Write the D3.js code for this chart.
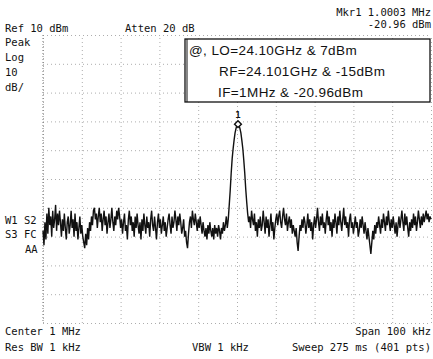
<!DOCTYPE html>
<html>
<head>
<meta charset="utf-8">
<script src="https://cdn.jsdelivr.net/npm/d3@7"></script>
<style>
  html, body { margin: 0; padding: 0; background: #fff; }
  svg { display: block; }
  .hp { font-family: "DejaVu Sans Mono", monospace; font-size: 10.5px; fill: #111; }
  .box { font-family: "Liberation Sans", Arial, sans-serif; font-size: 13.5px; letter-spacing: 0.4px; fill: #111; }
  .grid line { stroke: #adadad; stroke-width: 1; stroke-dasharray: 1,3; }
  .grid path { display: none; }
</style>
</head>
<body>
<div id="chart"></div>
<script>
// sweep settings (MHz / dBm)
const centerMHz = 1.0;
const spanMHz = 0.1;
const refLevel = 10;
const dbPerDiv = 10;
const nPoints = 401;

// trace, 401 pts, 0.25 kHz apart
const traceDbm = [
  -58,-63,-55,-61,-52,-59,-50,-56,-53,-60,-51,-57,-54,-49,-58,-52,-56,-51,-55,-60,
  -54,-58,-52,-57,-61,-55,-53,-59,-56,-51,-57,-54,-60,-52,-58,-55,-61,-57,-53,-59,
  -56,-60,-62,-64,-59,-63,-57,-61,-55,-58,-53,-56,-51,-50,-54,-52,-57,-53,-50,-55,
  -52,-58,-54,-51,-56,-53,-59,-55,-52,-57,-54,-50,-55,-58,-53,-56,-51,-54,-50,-53,
  -57,-54,-59,-55,-52,-58,-56,-61,-54,-51,-56,-53,-58,-55,-60,-53,-57,-52,-56,-59,
  -55,-61,-54,-58,-52,-56,-59,-53,-57,-55,-60,-54,-51,-56,-58,-53,-57,-61,-55,-52,
  -57,-54,-59,-56,-53,-58,-55,-60,-57,-54,-52,-56,-59,-53,-57,-55,-51,-54,-58,-53,
  -56,-52,-55,-59,-57,-54,-60,-58,-62,-64,-59,-55,-53,-57,-51,-54,-56,-52,-55,-58,
  -54,-57,-53,-56,-59,-55,-58,-60,-57,-61,-56,-59,-55,-58,-60,-57,-61,-56,-59,-57,
  -60,-56,-58,-61,-57,-59,-55,-58,-56,-53,-57,
  // IF peak
  -54,-49,-44,-38,-33,-29.5,-26.5,-24,-22.4,-21.3,-20.96,-21.3,-22.4,-24,-26.6,-29.5,-33.5,-38,-43.5,-48,-52,
  -55,-53,-57,-51,-54,-56,-52,-58,
  -55,-60,-54,-57,-53,-58,-56,-51,-55,-59,-53,-57,-54,-60,-56,-52,-58,-55,-61,-57,
  -54,-52,-56,-53,-51,-55,-57,-53,-50,-54,-56,-52,-58,-55,-53,-57,-54,-59,-56,-58,
  -60,-57,-62,-65,-60,-56,-58,-54,-57,-53,-55,-59,-56,-52,-57,-54,-58,-55,-61,-56,
  -53,-57,-54,-50,-55,-58,-53,-56,-52,-57,-55,-59,-54,-51,-56,-53,-58,-55,-60,-54,
  -57,-52,-55,-59,-53,-56,-51,-55,-58,-54,-50,-56,-53,-57,-55,-60,-54,-52,-57,-55,
  -59,-56,-53,-57,-55,-60,-58,-54,-57,-53,-56,-59,-55,-58,-61,-57,-60,-63,-66,-62,
  -58,-61,-56,-59,-55,-57,-53,-56,-59,-54,-57,-52,-55,-58,-53,-56,-51,-55,-58,-54,
  -57,-53,-56,-59,-55,-60,-56,-53,-57,-54,-51,-55,-58,-52,-56,-53,-57,-60,-55,-58,
  -54,-57,-52,-56,-53,-58,-55,-51,-54,-57,-53,-56,-52,-55,-53,-51,-54,-52,-55,-53,-54
];

const marker = { freq: 1.00025, level: -20.96, label: "1" };

const headerLeft = ["Ref 10 dBm", "Atten 20 dB"];
const markerText = ["Mkr1 1.0003 MHz", "-20.96 dBm"];
const sideLabels = ["Peak", "Log", "10", "dB/"];
const modeLabels = ["W1 S2", "S3 FC", "AA"];
const footer = ["Center 1 MHz", "Span 100 kHz", "Res BW 1 kHz", "VBW 1 kHz", "Sweep 275 ms (401 pts)"];
const noteLines = ["@, LO=24.10GHz & 7dBm", "RF=24.101GHz & -15dBm", "IF=1MHz & -20.96dBm"];

const W = 433, H = 359;
const plot = { left: 43, right: 431, top: 35, bottom: 323 };

const svg = d3.select("#chart").append("svg")
  .attr("width", W).attr("height", H);

const x = d3.scaleLinear()
  .domain([centerMHz - spanMHz / 2, centerMHz + spanMHz / 2])
  .range([plot.left, plot.right]);
const y = d3.scaleLinear()
  .domain([refLevel - 10 * dbPerDiv, refLevel])
  .range([plot.bottom, plot.top]);

const xTicks = d3.range(11).map(i => x.domain()[0] + i * spanMHz / 10);
const yTicks = d3.range(11).map(i => refLevel - i * dbPerDiv);

// dotted graticule
svg.append("g").attr("class", "grid")
  .attr("transform", `translate(0,${plot.bottom})`)
  .call(d3.axisBottom(x).tickValues(xTicks).tickSize(-(plot.bottom - plot.top)).tickFormat(""));
svg.append("g").attr("class", "grid")
  .attr("transform", `translate(${plot.left},0)`)
  .call(d3.axisLeft(y).tickValues(yTicks).tickSize(-(plot.right - plot.left)).tickFormat(""));

// left edge a bit darker, like on the screen
svg.append("line")
  .attr("x1", plot.left).attr("x2", plot.left).attr("y1", plot.top).attr("y2", plot.bottom)
  .attr("stroke", "#777").attr("stroke-dasharray", "1,2");

// trace
const pts = traceDbm.map((v, i) => ({ f: x.domain()[0] + i * spanMHz / (nPoints - 1), v }));
svg.append("path")
  .datum(pts)
  .attr("fill", "none")
  .attr("stroke", "#111")
  .attr("stroke-width", 1.4)
  .attr("d", d3.line().x(d => x(d.f)).y(d => y(d.v)));

// marker
const mx = x(marker.freq), my = y(marker.level);
svg.append("path")
  .attr("d", d3.symbol(d3.symbolDiamond2, 30)())
  .attr("transform", `translate(${mx},${my})`)
  .attr("fill", "#fff").attr("stroke", "#111").attr("stroke-width", 1.4);
svg.append("text").attr("class", "hp").attr("x", mx).attr("y", my - 6)
  .attr("text-anchor", "middle").style("font-size", "9px").style("font-weight", "bold").text(marker.label);

// annotation box
svg.append("rect")
  .attr("x", 185).attr("y", 39).attr("width", 245).attr("height", 63)
  .attr("fill", "#fff").attr("stroke", "#111").attr("stroke-width", 1.3);
svg.append("line").attr("x1", 187).attr("x2", 187).attr("y1", 39).attr("y2", 102)
  .attr("stroke", "#111").attr("stroke-width", 1);
const noteX = [189, 219, 218];
noteLines.forEach((t, i) => {
  svg.append("text").attr("class", "box").attr("x", noteX[i]).attr("y", 55 + i * 21).text(t);
});

// screen annotations
const hp = (t, px, py, anchor) => svg.append("text").attr("class", "hp")
  .attr("x", px).attr("y", py).attr("text-anchor", anchor || "start").text(t);

hp(headerLeft[0], 5, 32);
hp(headerLeft[1], 125, 32);
hp(markerText[0], 431, 16, "end");
hp(markerText[1], 431, 28, "end");
sideLabels.forEach((t, i) => hp(t, 5, 46 + i * 15));
hp(modeLabels[0], 5, 224);
hp(modeLabels[1], 5, 238);
hp(modeLabels[2], 25, 253);
hp(footer[0], 5, 335);
hp(footer[1], 431, 335, "end");
hp(footer[2], 5, 351);
hp(footer[3], 192, 351);
hp(footer[4], 431, 351, "end");
</script>
</body>
</html>
